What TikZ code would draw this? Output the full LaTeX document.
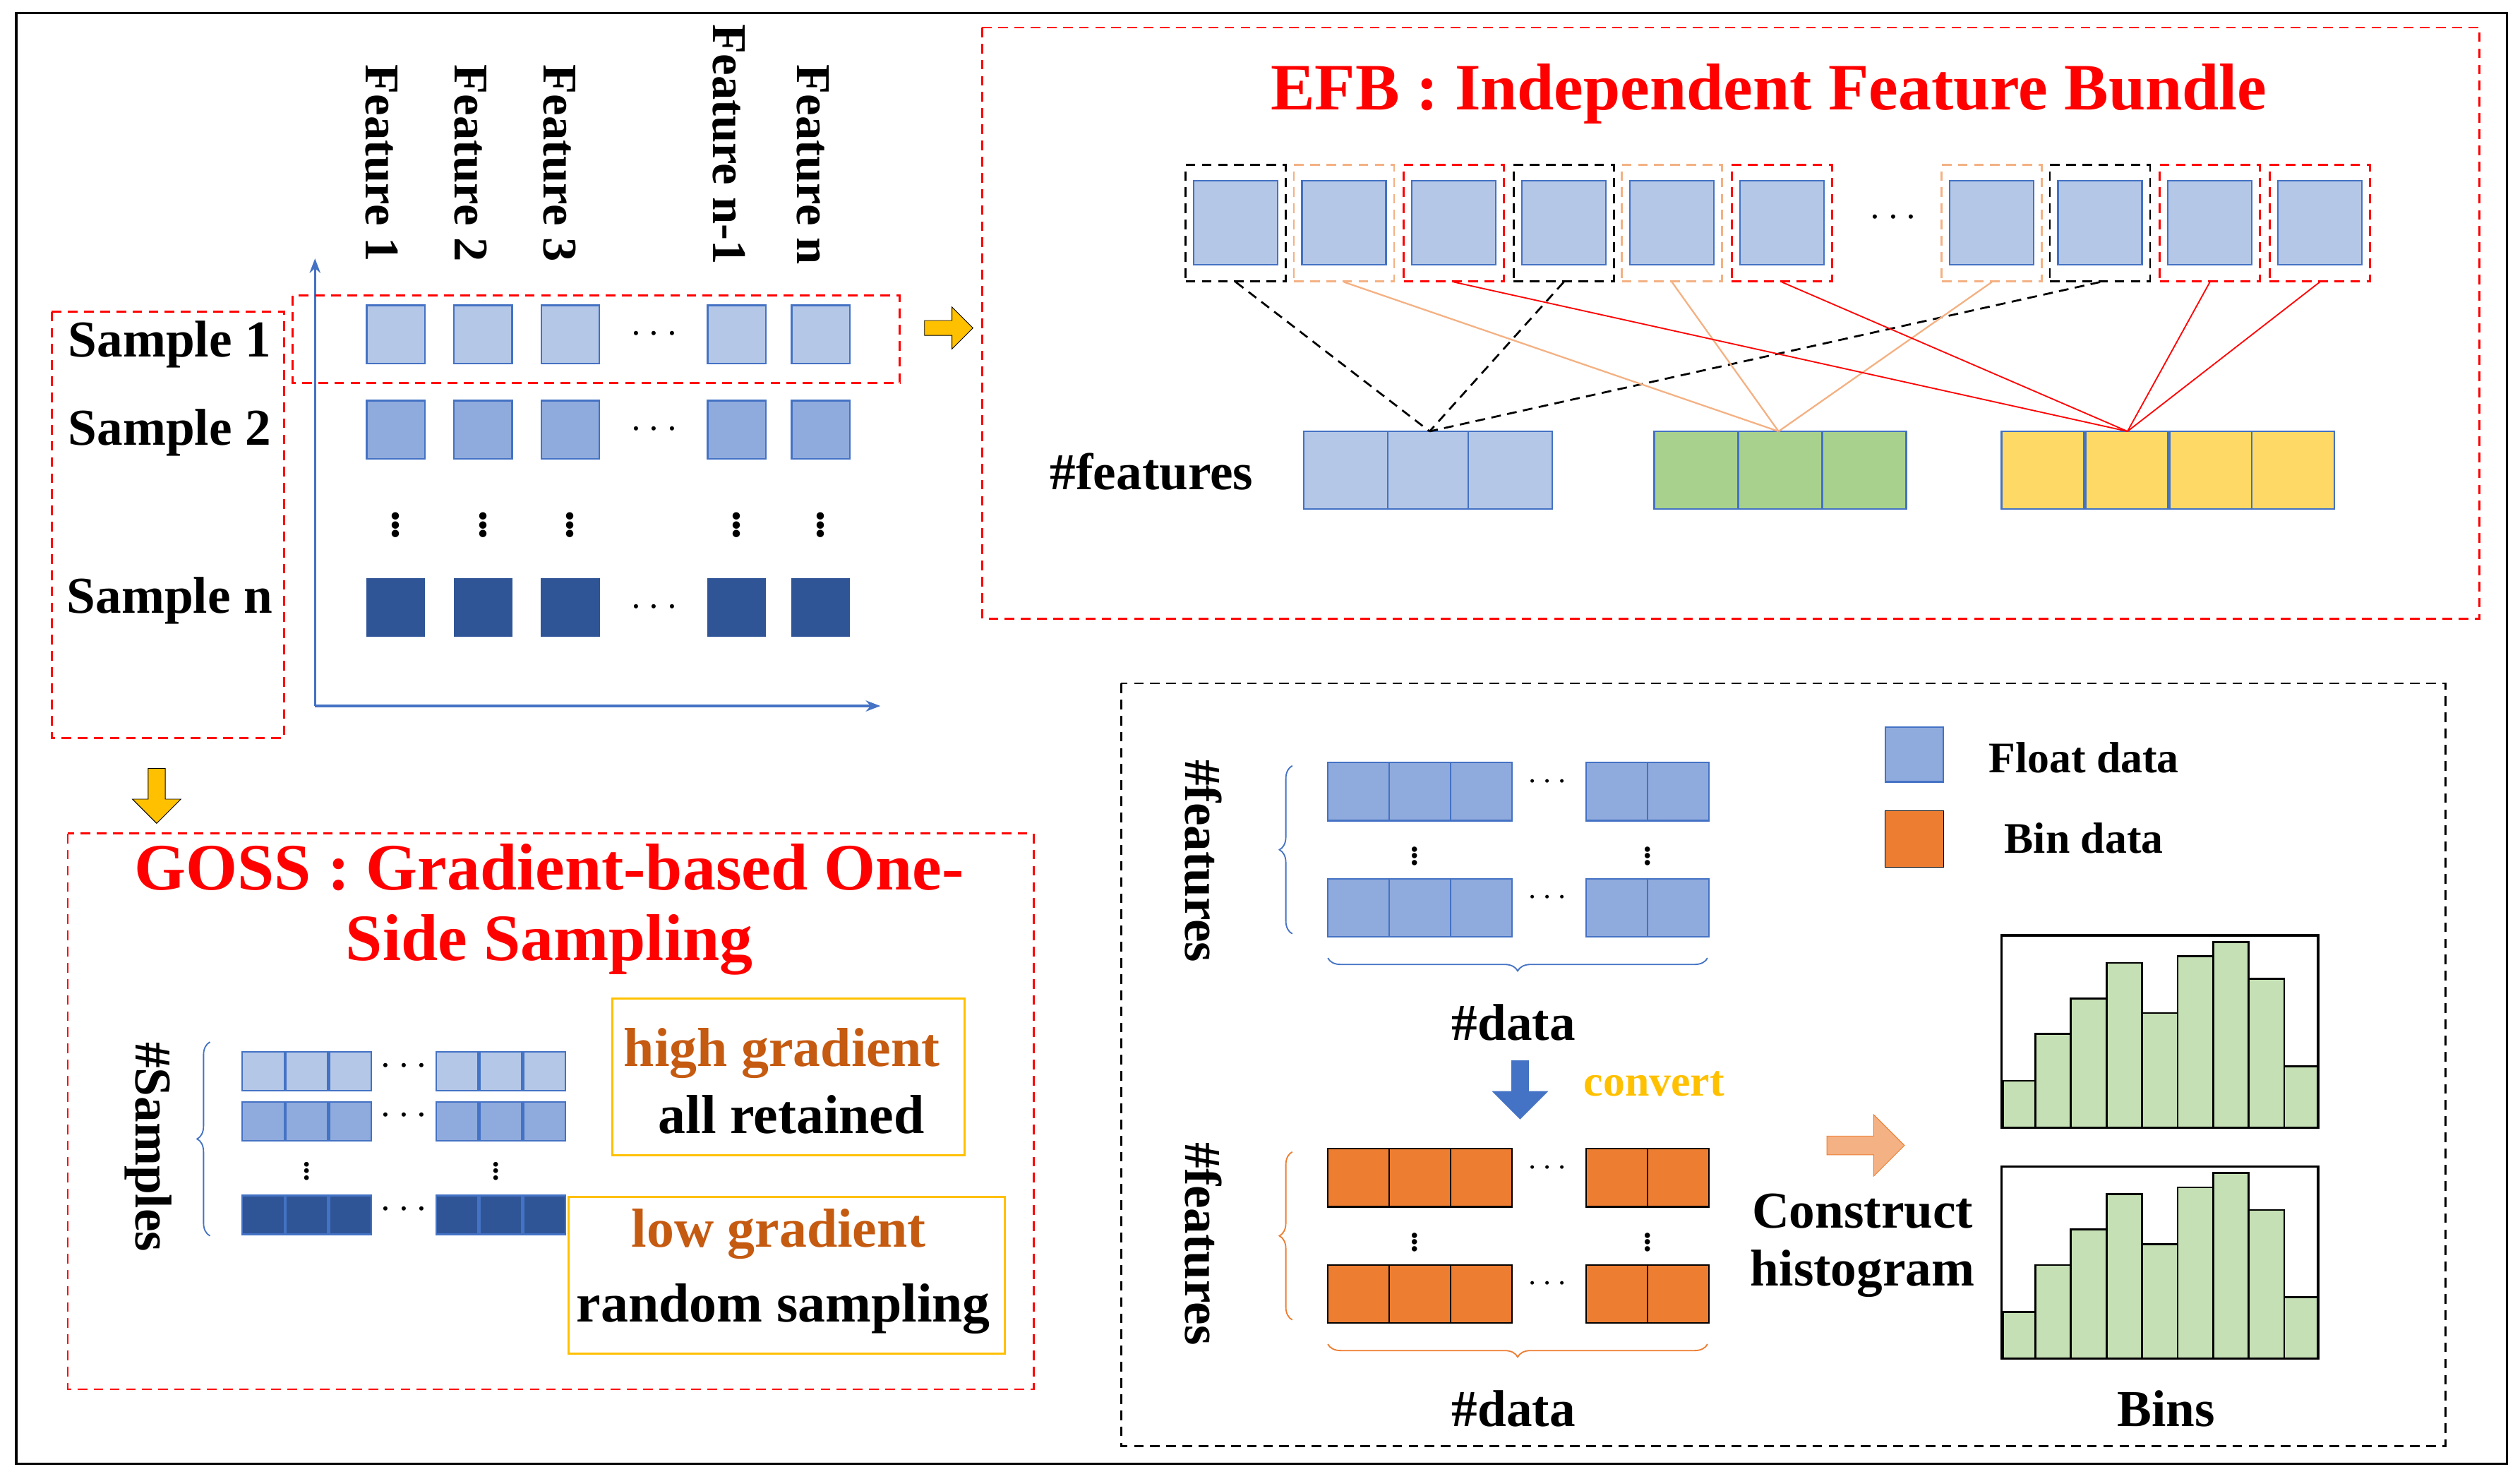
\documentclass[tikz,border=0pt]{standalone}
\usepackage{fontspec}
\setmainfont{Liberation Serif}
\usetikzlibrary{decorations.pathreplacing,arrows.meta,shapes.arrows}
\definecolor{lb}{HTML}{B4C7E7}
\definecolor{mb}{HTML}{8FAADC}
\definecolor{db}{HTML}{2F5597}
\definecolor{bb}{HTML}{4472C4}
\definecolor{gr}{HTML}{A9D18E}
\definecolor{hg}{HTML}{C5E0B4}
\definecolor{ye}{HTML}{FFD966}
\definecolor{og}{HTML}{ED7D31}
\definecolor{yo}{HTML}{FFC000}
\definecolor{do}{HTML}{C55A11}
\definecolor{lo}{HTML}{F4B183}
\begin{document}
\begin{tikzpicture}[x=1pt,y=-1pt,
 t/.style={font=\fontsize{#1}{#1}\selectfont\bfseries,inner sep=0},
 dsh/.style={dash pattern=on 6 off 4},
 rdash/.style={draw=red,dsh,line width=1.2},
 sq/.style={draw=bb,line width=1,fill=#1},
 brc/.style={decorate,decoration={brace,amplitude=8},line width=0.8}]
\useasboundingbox (0,0) rectangle (1560,912);
\draw[line width=1.5] (10,8) rectangle (1552,906);
% feature labels
\foreach \x/\s [count=\i] in {240/Feature 1,295/Feature 2,350/Feature 3,455/Feature n-1,507/Feature n}
  \node[t=30,rotate=-90,anchor=south west] (f\i) at (\x-14,\ifnum\i=4 15\else 40\fi) {\s};
% axes
\coordinate (o) at (195,437); \coordinate (ay) at (195,160); \coordinate (ax) at (545,437);
\draw[bb,line width=1.5,-{Stealth[length=9]}] (o)--(ay);
\draw[bb,line width=1.5,-{Stealth[length=9]}] (o)--(ax);
\foreach \x in {245,299,353,456,508}{
 \draw[sq=lb] (\x-18,189) rectangle (\x+18,225);
 \draw[sq=mb] (\x-18,248) rectangle (\x+18,284);
 \draw[draw=db,fill=db] (\x-18,358) rectangle (\x+18,394);
 \node[t=28] at (\x,322) {$\vdots$};}
\foreach \y in {207,266,376} \node[t=28] at (405,\y) {$\cdots$};
\node[t=32] (s1) at (105,213) {Sample 1};
\node[t=32] (s2) at (105,268) {Sample 2};
\node[t=32] (sn) at (105,372) {Sample n};
\draw[rdash] (32,193) rectangle (176,457);
\draw[rdash] (181,183) rectangle (557,237);
\node[single arrow,draw=black,fill=yo,minimum height=30,minimum width=26,single arrow head extend=4,inner sep=2] (a1) at (585,203) {};
\node[single arrow,draw=black,fill=yo,minimum height=34,minimum width=30,single arrow head extend=4,inner sep=2,rotate=-90] (a2) at (97,490) {};
% EFB
\draw[rdash] (608,17) rectangle (1535,383);
\node[t=41,text=red] (efb) at (1095,58) {EFB : Independent Feature Bundle};
\foreach \x/\c [count=\i] in {765/black,832/lo,900/red,968/black,1035/lo,1103/red,1233/lo,1300/black,1368/red,1436/red}{
 \draw[sq=lb] (\x-26,112) rectangle (\x+26,164);
 \node[draw=\c,dsh,line width=1.2,minimum width=62,minimum height=72,inner sep=0] (e\i) at (\x,138) {};}
\node[t=28] at (1172,135) {$\cdots$};
\foreach \x in {807,859,909} \draw[sq=lb] (\x,267) rectangle +(52,48);
\foreach \x in {1024,1076,1128} \draw[sq=gr] (\x,267) rectangle +(52,48);
\foreach \x in {1239,1291,1343,1394} \draw[sq=ye] (\x,267) rectangle +(51,48);
\coordinate (cb) at (885,267); \coordinate (cg) at (1101,267); \coordinate (cy) at (1317,267);
\foreach \i in {1,4,8} \draw[dsh,line width=1.2] (e\i.south)--(cb);
\foreach \i in {2,5,7} \draw[lo,line width=1] (e\i.south)--(cg);
\foreach \i in {3,6,9,10} \draw[red,line width=0.8] (e\i.south)--(cy);
\node[t=32] (nf) at (713,292) {\#features};
% bottom right
\draw[dsh,line width=1.2] (694,423) rectangle (1514,895);
\foreach \y/\c/\d in {490/mb/bb,562/mb/bb,729/og/black,801/og/black}{
 \foreach \x in {822,860,898} \draw[draw=\d,fill=\c,line width=1] (\x,\y-18) rectangle +(38,36);
 \foreach \x in {982,1020} \draw[draw=\d,fill=\c,line width=1] (\x,\y-18) rectangle +(38,36);
 \node[t=22] at (958,\y-6) {$\cdots$};}
\foreach \y in {527,766} {\foreach \x in {876,1020} \node[t=20] at (\x,\y) {$\vdots$};}
\draw[brc,bb] (800,578)--(800,474);
\draw[brc,bb] (1057,593)--(822,593);
\draw[brc,og] (800,817)--(800,713);
\draw[brc,og] (1057,832)--(822,832);
\node[t=32,rotate=-90] (l1) at (745,533) {\#features};
\node[t=32,rotate=-90] (l2) at (745,770) {\#features};
\node[t=32] (d1) at (937,633) {\#data};
\node[t=32] (d2) at (937,872) {\#data};
\node[single arrow,draw=bb,fill=bb,minimum height=36,minimum width=34,single arrow head extend=5,inner sep=2,rotate=-90] (a3) at (941,672) {};
\node[t=27,text=yo] (cv) at (1024,671) {convert};
\draw[sq=mb] (1167,450) rectangle (1203,484);
\draw[draw=black,fill=og] (1167,502) rectangle (1203,537);
\node[t=27] (lg1) at (1290,469) {Float data};
\node[t=27] (lg2) at (1290,519) {Bin data};
\node[single arrow,draw=og,fill=lo,minimum height=48,minimum width=38,single arrow head extend=5,inner sep=2] (a4) at (1152,709) {};
\node[t=32,align=center] (ch) at (1153,771) {Construct\\[4pt]histogram};
\foreach \oy in {0,143}{
 \foreach \x/\h [count=\i] in {1240/669,1260/640,1282/618,1304/596,1326/627,1348/592,1370/583,1392/606,1414/660}
  \draw[fill=hg,line width=1.2] (\x,\h+\oy) rectangle ({\ifnum\i=9 1435\else\x+22\fi},698+\oy);
 \draw[line width=1.5] (1239,579+\oy) rectangle (1435,698+\oy);}
\node[t=32] (bins) at (1341,872) {Bins};
% GOSS
\draw[rdash] (42,516) rectangle (640,860);
\node[t=41,text=red] (g1) at (340,537) {GOSS : Gradient-based One-};
\node[t=41,text=red] (g2) at (340,585) {Side Sampling};
\foreach \y/\c in {663/lb,694/mb,752/db}{
 \foreach \x in {150,177,204,270,297,324} \draw[draw=\ifx\c db db\else bb\fi,fill=\c,line width=1] (\x,\y-12) rectangle +(26,24);
 \node[t=24] at (250,\y-3) {$\cdots$};}
\foreach \x in {190,307} \node[t=18] at (\x,722) {$\vdots$};
\draw[brc,bb] (130,765)--(130,645);
\node[t=32,rotate=-90] (sm) at (92,710) {\#Samples};
\draw[yo,line width=1.5] (379,618) rectangle (597,715);
\draw[yo,line width=1.5] (352,741) rectangle (622,838);
\node[t=34,text=do] (hg) at (484,652) {high gradient};
\node[t=34] (ar) at (490,690) {all retained};
\node[t=34,text=do] (lgd) at (482,764) {low gradient};
\node[t=34] (rs) at (485,810) {random sampling};
\end{tikzpicture}
\end{document}
